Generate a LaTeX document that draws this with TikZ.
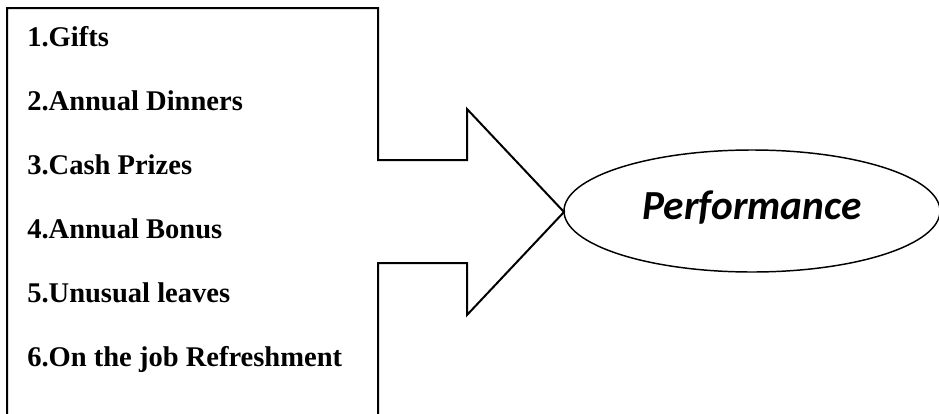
\documentclass[tikz,border=0pt]{standalone}
\usepackage{fontspec}
\setmainfont{Liberation Serif}
\newfontfamily\calib{Carlito}
\begin{document}
\begin{tikzpicture}[x=0.75pt,y=-0.75pt,
  item/.style={anchor=base west,inner sep=0pt,font=\fontsize{21.4}{21.4}\selectfont\bfseries},
  outline/.style={draw=black,line width=1.5pt,line join=miter}]
\useasboundingbox (0,0) rectangle (939,414);
\clip (0,0) rectangle (939,414);
% block arrow: list box with an arrow head on its right side
\draw[outline] (7,430) -- (7,8) -- (378,8) -- (378,160) -- (467,160) -- (467,109)
  -- (564,212) -- (467,315) -- (467,263) -- (378,263) -- (378,430) -- cycle;
\node[item] (i1) at (27,46)  {1.Gifts};
\node[item] (i2) at (27,110) {2.Annual Dinners};
\node[item] (i3) at (27,174) {3.Cash Prizes};
\node[item] (i4) at (27,238) {4.Annual Bonus};
\node[item] (i5) at (27,302) {5.Unusual leaves};
\node[item] (i6) at (27,366) {6.On the job Refreshment};
% outcome oval
\draw[draw=black,line width=1.1pt] (752,211) ellipse [x radius=188, y radius=61];
\node[inner sep=0pt,font=\calib\fontsize{31}{31}\selectfont\bfseries\itshape] (perf) at (752,208) {Performance};
\end{tikzpicture}
\end{document}
